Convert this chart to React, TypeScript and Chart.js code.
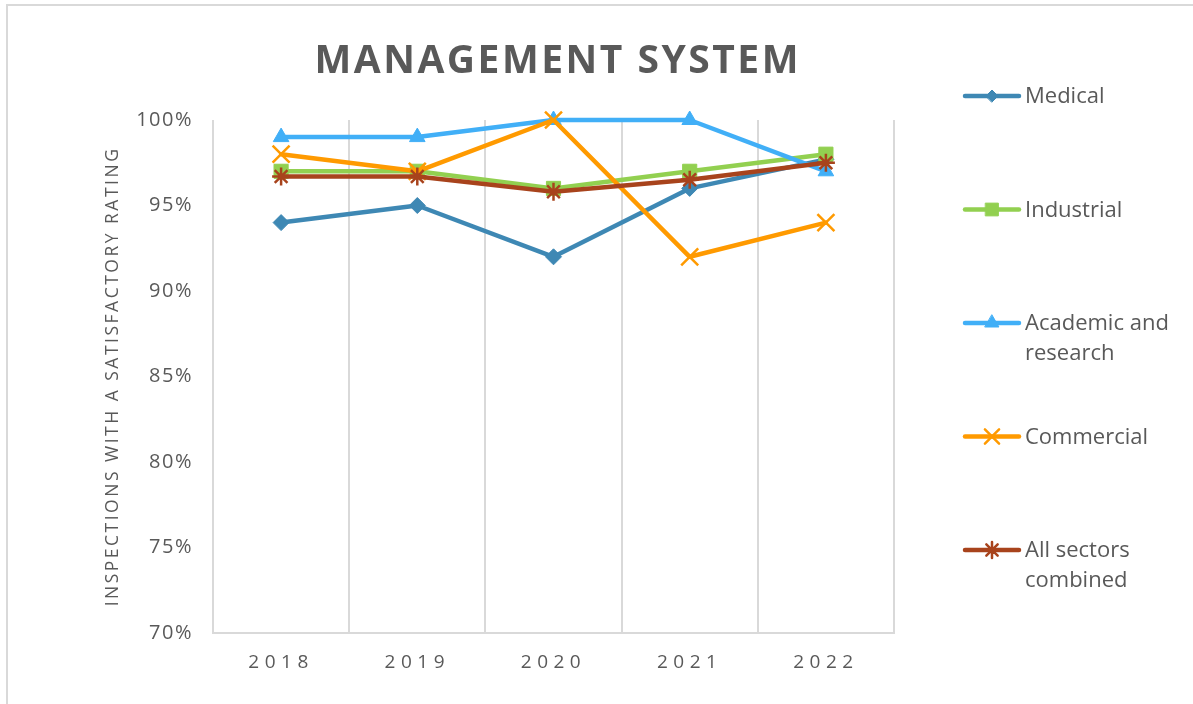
import React, { useEffect, useRef } from 'react';
import { Chart, registerables, PointElement } from 'chart.js';

Chart.register(...registerables);

// ---------- data ----------
const categories = ['2018', '2019', '2020', '2021', '2022'];
const medical = [94, 95, 92, 96, 97.7];
const industrial = [97, 97, 96, 97, 98];
const academic = [99, 99, 100, 100, 97];
const commercial = [98, 97, 100, 92, 94];
const allSectors = [96.7, 96.7, 95.8, 96.5, 97.5];

const seriesNames = ['Medical', 'Industrial', 'Academic and research', 'Commercial', 'All sectors combined'];
const legendLines = [['Medical'], ['Industrial'], ['Academic and', 'research'], ['Commercial'], ['All sectors', 'combined']];
const yMin = 70;
const yMax = 100;
const yStep = 5;
const chartTitle = 'MANAGEMENT SYSTEM';
const yAxisTitle = 'INSPECTIONS WITH A SATISFACTORY RATING';

// ---------- styles ----------
const TEXT = '#595959';
const GRID = '#d9d9d9';
const FONT = '"Open Sans", "Noto Sans", sans-serif';

const seriesStyles = [
  { color: '#3E88B4', pointStyle: 'rectRot', radius: 8, legendRadius: 6, borderWidth: 1 },
  { color: '#92D050', pointStyle: 'rect', radius: 10, legendRadius: 9, borderWidth: 1 },
  { color: '#41AFF7', pointStyle: 'triangle', radius: 9, legendRadius: 8, borderWidth: 1 },
  { color: '#FF9A00', pointStyle: 'crossRot', radius: 12, legendRadius: 10, borderWidth: 2.5 },
  { color: '#A8431C', pointStyle: 'star', radius: 9, legendRadius: 8, borderWidth: 2.5 },
];
const seriesValues = [medical, industrial, academic, commercial, allSectors];

// letter spacing applied to selected scale parts
const spacingPlugin = {
  id: 'letterSpacingPatch',
  afterLayout(chart: any) {
    const wrap = (obj: any, key: string, spacing: string) => {
      if (!obj || obj['__patched_' + key]) return;
      const orig = obj[key];
      obj[key] = function (...args: any[]) {
        const ctx = chart.ctx;
        ctx.save();
        ctx.letterSpacing = spacing;
        orig.apply(this, args);
        ctx.restore();
      };
      obj['__patched_' + key] = true;
    };
    wrap(chart.scales.x, 'drawLabels', '5.5px');
    wrap(chart.scales.y, 'drawLabels', '1.5px');
    wrap(chart.scales.y, 'drawTitle', '2.5px');
  },
};

const titlePlugin = {
  id: 'customTitle',
  afterDraw(chart: any) {
    const ctx = chart.ctx;
    ctx.save();
    ctx.font = `bold 39px ${FONT}`;
    ctx.letterSpacing = '2.5px';
    ctx.fillStyle = TEXT;
    ctx.textAlign = 'left';
    ctx.textBaseline = 'middle';
    const w = ctx.measureText(chartTitle).width - 2.5;
    const cx = (chart.chartArea.left + chart.chartArea.right) / 2 + 3;
    ctx.fillText(chartTitle, cx - w / 2, 62);
    ctx.restore();
  },
};

const legendPlugin = {
  id: 'sideLegend',
  afterDraw(chart: any) {
    const ctx = chart.ctx;
    const area = { left: 0, top: 0, right: chart.width, bottom: chart.height };
    const top = 96;
    const step = 113.5;
    const lineX0 = 965;
    const lineX1 = 1019;
    const textX = 1025;
    chart.data.datasets.forEach((ds: any, i: number) => {
      const st = seriesStyles[i];
      const y = top + i * step;
      ctx.save();
      ctx.strokeStyle = st.color;
      ctx.lineWidth = 4.5;
      ctx.lineCap = 'round';
      ctx.beginPath();
      ctx.moveTo(lineX0, y);
      ctx.lineTo(lineX1, y);
      ctx.stroke();
      const pt: any = new (PointElement as any)({
        x: (lineX0 + lineX1) / 2,
        y,
        options: {
          pointStyle: st.pointStyle,
          radius: st.legendRadius,
          rotation: 0,
          borderWidth: st.borderWidth,
          borderColor: st.color,
          backgroundColor: st.color,
        },
      });
      pt.draw(ctx, area);
      ctx.fillStyle = TEXT;
      ctx.font = `22px ${FONT}`;
      ctx.textAlign = 'left';
      ctx.textBaseline = 'middle';
      legendLines[i].forEach((t, j) => ctx.fillText(t, textX, y + 1 + j * 30));
      ctx.restore();
    });
  },
};

export default function App() {
  const canvasRef = useRef<HTMLCanvasElement | null>(null);

  useEffect(() => {
    const canvas = canvasRef.current;
    if (!canvas) return;
    const n = seriesValues.length;
    const chart = new Chart(canvas, {
      type: 'line',
      data: {
        labels: categories,
        datasets: seriesValues.map((vals, i) => {
          const st = seriesStyles[i];
          return {
            label: seriesNames[i],
            data: vals,
            borderColor: st.color,
            backgroundColor: st.color,
            borderWidth: 4.5,
            borderCapStyle: 'round',
            borderJoinStyle: 'round',
            pointStyle: st.pointStyle,
            pointRadius: st.radius,
            pointBorderWidth: st.borderWidth,
            pointBorderColor: st.color,
            pointBackgroundColor: st.color,
            tension: 0,
            clip: false,
            order: n - 1 - i,
          } as any;
        }),
      },
      options: {
        responsive: false,
        animation: false,
        events: [],
        layout: { padding: { left: 0, top: 120, right: 299, bottom: 0 } },
        plugins: {
          legend: { display: false },
          tooltip: { enabled: false },
          title: { display: false },
        },
        scales: {
          x: {
            type: 'category',
            offset: true,
            grid: { display: true, offset: true, color: GRID, lineWidth: 2, drawTicks: false },
            border: { display: true, color: GRID, width: 2 },
            ticks: { color: TEXT, font: { family: FONT, size: 19 }, padding: 18 },
            afterFit: (scale: any) => {
              scale.height = 71;
            },
          },
          y: {
            type: 'linear',
            min: yMin,
            max: yMax,
            grid: { display: false, drawTicks: false },
            border: { display: false },
            ticks: {
              stepSize: yStep,
              color: TEXT,
              font: { family: FONT, size: 20 },
              padding: 20,
              callback: (v: any) => `${v}%`,
            },
            title: {
              display: true,
              text: yAxisTitle,
              color: TEXT,
              font: { family: FONT, size: 17.5 },
              padding: { top: 102.5, bottom: 0 },
            },
            afterFit: (scale: any) => {
              scale.width = 213;
            },
          },
        },
      } as any,
      plugins: [spacingPlugin, titlePlugin, legendPlugin],
    });
    return () => chart.destroy();
  }, []);

  return (
    <div style={{ position: 'absolute', left: 0, top: 0, width: 1193, height: 704, overflow: 'hidden', background: '#fff' }}>
      <div
        style={{
          position: 'absolute',
          left: 6,
          top: 4,
          width: 1193,
          height: 704,
          borderTop: `2px solid ${GRID}`,
          borderLeft: `2px solid ${GRID}`,
        }}
      />
      <canvas
        ref={canvasRef}
        width={1193}
        height={704}
        style={{ position: 'absolute', left: 0, top: 0, width: 1193, height: 704 }}
      />
    </div>
  );
}
